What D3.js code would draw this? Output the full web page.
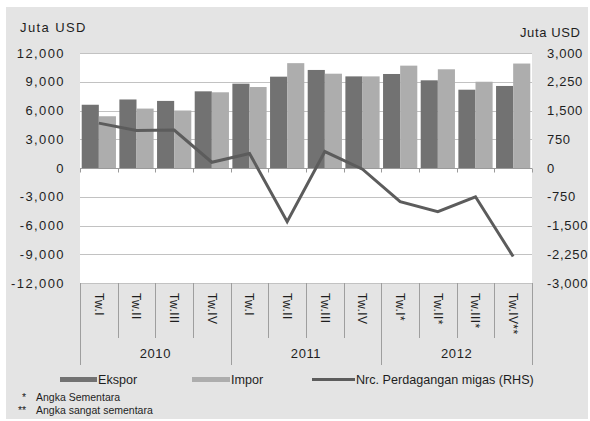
<!DOCTYPE html>
<html>
<head>
<meta charset="utf-8">
<script src="https://cdn.jsdelivr.net/npm/d3@7"></script>
<style>
  html, body { margin: 0; padding: 0; background: #fff; }
  svg { display: block; }
  text { font-family: "Liberation Sans", Arial, sans-serif; fill: #1e1e1e; }
</style>
</head>
<body>
<svg id="chart" width="590" height="421"></svg>
<script>
// Quarterly oil & gas trade (million USD)
const years = ["2010", "2011", "2012"];
const quarters = ["Tw.I", "Tw.II", "Tw.III", "Tw.IV", "Tw.I", "Tw.II", "Tw.III", "Tw.IV",
                  "Tw.I*", "Tw.II*", "Tw.III*", "Tw.IV**"];
const quarterYear = [0, 0, 0, 0, 1, 1, 1, 1, 2, 2, 2, 2];
const ekspor = [6600, 7150, 7000, 8000, 8800, 9530, 10230, 9560, 9810, 9150, 8170, 8560];
const impor = [5400, 6200, 6000, 7900, 8450, 10940, 9840, 9560, 10680, 10300, 9000, 10900];
// Trade balance, right-hand scale
const neraca = [1170, 980, 990, 150, 380, -1400, 430, -30, -880, -1140, -750, -2310];
const leftTicks = [-12000, -9000, -6000, -3000, 0, 3000, 6000, 9000, 12000];
const rightTicks = [-3000, -2250, -1500, -750, 0, 750, 1500, 2250, 3000];
const seriesNames = ["Ekspor", "Impor"];
const lineName = "Nrc. Perdagangan migas (RHS)";
const unitLabel = "Juta USD";
const notes = [["*", "Angka Sementara"], ["**", "Angka sangat sementara"]];

const colors = { Ekspor: "#727272", Impor: "#adadad", line: "#5c5c5c" };

const svg = d3.select("#chart");
const plot = { left: 80, right: 532, top: 53, bottom: 283 };

const fmt = d3.formatLocale({ decimal: ".", thousands: ",", grouping: [3], currency: ["$", ""], minus: "-" }).format(",");

// grey panel behind everything
svg.append("rect").attr("x", 6).attr("y", 7).attr("width", 582).attr("height", 412).attr("fill", "#e4e4e4");

// white plotting area
svg.append("rect").attr("x", plot.left).attr("y", plot.top)
  .attr("width", plot.right - plot.left).attr("height", plot.bottom - plot.top).attr("fill", "#fff");

const idx = d3.range(quarters.length);
const x = d3.scaleBand().domain(idx).range([plot.left, plot.right]).paddingInner(0).paddingOuter(0);
const xs = d3.scaleBand().domain(seriesNames).range([0, x.bandwidth()]).paddingOuter(0.1).paddingInner(0);
const yL = d3.scaleLinear().domain([-12000, 12000]).range([plot.bottom, plot.top]);
const yR = d3.scaleLinear().domain([-3000, 3000]).range([plot.bottom, plot.top]);

// horizontal gridlines
svg.append("g").selectAll("line").data(leftTicks).join("line")
  .attr("x1", plot.left).attr("x2", plot.right)
  .attr("y1", d => Math.round(yL(d)) + 0.5).attr("y2", d => Math.round(yL(d)) + 0.5)
  .attr("stroke", "#c2c2c2").attr("stroke-width", 1);

// bars
const rows = idx.map(i => ({ i, Ekspor: ekspor[i], Impor: impor[i] }));
svg.append("g").selectAll("g").data(rows).join("g")
  .attr("transform", d => `translate(${x(d.i)},0)`)
  .selectAll("rect").data(d => seriesNames.map(k => ({ k, v: d[k] }))).join("rect")
  .attr("x", d => xs(d.k)).attr("width", xs.bandwidth())
  .attr("y", d => yL(Math.max(0, d.v))).attr("height", d => Math.abs(yL(d.v) - yL(0)))
  .attr("fill", d => colors[d.k]);

// zero axis with small ticks at category boundaries
const y0 = Math.round(yL(0)) + 0.5;
svg.append("line").attr("x1", plot.left).attr("x2", plot.right).attr("y1", y0).attr("y2", y0)
  .attr("stroke", "#9a9a9a");
const bounds = idx.map(i => x(i)).concat([plot.right]);
svg.append("g").selectAll("line").data(bounds).join("line")
  .attr("x1", d => Math.round(d) + 0.5).attr("x2", d => Math.round(d) + 0.5)
  .attr("y1", y0).attr("y2", y0 + 4).attr("stroke", "#9a9a9a");

// balance line
svg.append("path").datum(neraca)
  .attr("d", d3.line().x((d, i) => x(i) + x.bandwidth() / 2).y(d => yR(d)))
  .attr("fill", "none").attr("stroke", colors.line).attr("stroke-width", 3).attr("stroke-linejoin", "miter");

// value axes
const axisStyle = spacing => g => {
  g.select(".domain").remove();
  g.selectAll("text").style("font-family", "'Liberation Sans', Arial, sans-serif")
    .style("font-size", "13px").style("letter-spacing", spacing).attr("fill", "#1e1e1e");
};
svg.append("g").attr("transform", `translate(${plot.left},0)`)
  .call(d3.axisLeft(yL).tickValues(leftTicks).tickFormat(fmt).tickSize(0).tickPadding(15))
  .call(axisStyle("1.4px"));
svg.append("g").attr("transform", `translate(${plot.right},0)`)
  .call(d3.axisRight(yR).tickValues(rightTicks).tickFormat(fmt).tickSize(0).tickPadding(15))
  .call(axisStyle("0.7px"));

svg.append("text").attr("x", 20).attr("y", 32).text(unitLabel)
  .style("font-size", "13px").style("letter-spacing", "1.4px");
svg.append("text").attr("x", 520).attr("y", 37).text(unitLabel)
  .style("font-size", "13px").style("letter-spacing", "0.6px");

// category axis: quarter separators, year separators, labels
const catBottom = 338, yearBottom = 365;
const yearStarts = idx.filter(i => i === 0 || quarterYear[i] !== quarterYear[i - 1]);
svg.append("g").selectAll("line").data(bounds).join("line")
  .attr("x1", d => Math.round(d) + 0.5).attr("x2", d => Math.round(d) + 0.5)
  .attr("y1", plot.bottom)
  .attr("y2", (d, j) => (j === bounds.length - 1 || yearStarts.includes(j)) ? yearBottom : catBottom)
  .attr("stroke", "#9e9e9e");

svg.append("g").selectAll("text").data(idx).join("text")
  .attr("transform", i => `translate(${x(i) + x.bandwidth() / 2},${plot.bottom + 10}) rotate(90)`)
  .attr("dy", "0.35em").attr("text-anchor", "start")
  .style("font-size", "12px").style("letter-spacing", "0.4px").text(i => quarters[i]);

svg.append("g").selectAll("text").data(years).join("text")
  .attr("x", (d, k) => {
    const members = idx.filter(i => quarterYear[i] === k);
    return (x(members[0]) + x(members[members.length - 1]) + x.bandwidth()) / 2;
  })
  .attr("y", 358).attr("text-anchor", "middle")
  .style("font-size", "13px").style("letter-spacing", "0.6px").text(d => d);

// legend
const lg = svg.append("g");
const legendItems = [
  { name: seriesNames[0], x0: 60, x1: 97, kind: "bar", color: colors.Ekspor },
  { name: seriesNames[1], x0: 192, x1: 230, kind: "bar", color: colors.Impor },
  { name: lineName, x0: 312, x1: 355, kind: "line", color: colors.line }
];
legendItems.forEach(it => {
  if (it.kind === "bar") {
    lg.append("rect").attr("x", it.x0).attr("y", 377).attr("width", it.x1 - it.x0).attr("height", 5).attr("fill", it.color);
  } else {
    lg.append("line").attr("x1", it.x0).attr("x2", it.x1).attr("y1", 379.5).attr("y2", 379.5)
      .attr("stroke", it.color).attr("stroke-width", 3);
  }
  lg.append("text").attr("x", it.x1 + 1).attr("y", 384).style("font-size", "12.6px").text(it.name);
});

// footnotes
const fn = svg.append("g");
notes.forEach((n, k) => {
  const yy = 401 + k * 13;
  fn.append("text").attr("x", k === 0 ? 22 : 18).attr("y", yy)
    .style("font-size", "10.5px").text(n[0]);
  fn.append("text").attr("x", 36).attr("y", yy)
    .style("font-size", "10.5px").text(n[1]);
});
</script>
</body>
</html>
